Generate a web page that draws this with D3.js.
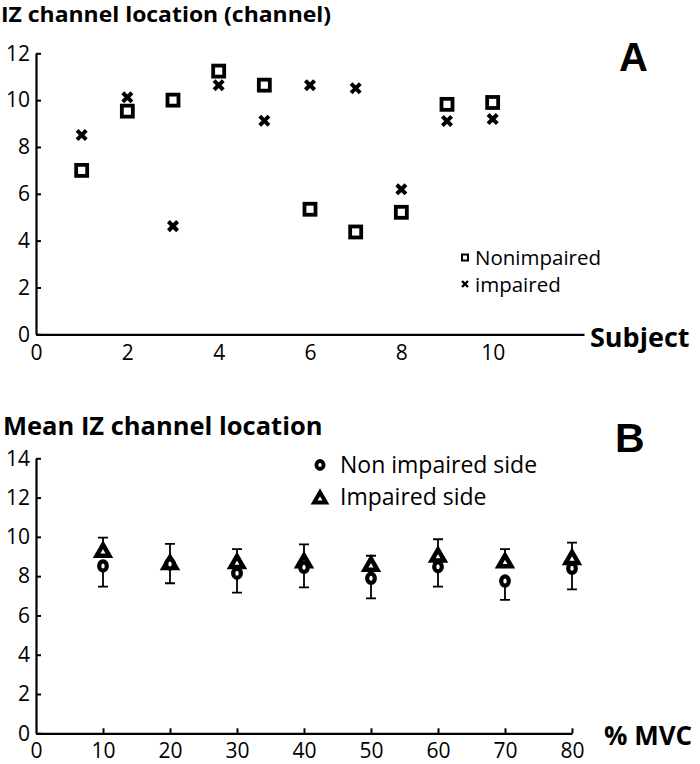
<!DOCTYPE html>
<html><head><meta charset="utf-8">
<script src="https://cdn.jsdelivr.net/npm/d3@7"></script>
<style>
body{margin:0;background:#fff;}
svg text{font-family:"Open Sans",sans-serif;fill:#000;}
</style></head>
<body><svg id="c" width="700" height="764"></svg>
<script>
// Panel A data
const subjects = [1,2,3,4,5,6,7,8,9,10];
const nonimpaired = [7.0,9.53,10.0,11.24,10.64,5.34,4.37,5.21,9.82,9.9];
const impaired = [8.51,10.12,4.62,10.64,9.12,10.64,10.51,6.19,9.11,9.19];
const aXTicks = [0,2,4,6,8,10];
const aYTicks = [0,2,4,6,8,10,12];
// Panel B data
const mvc = [10,20,30,40,50,60,70,80];
const nonImpairedSide = [8.52,8.62,8.15,8.45,7.89,8.48,7.75,8.40];
const nonImpairedSD = [1.05,0.98,0.99,1.02,1.02,1.01,0.96,1.07];
const impairedSide = [9.28,8.65,8.70,8.74,8.57,9.03,8.74,8.91];
const impairedSD = [0.68,0.99,0.68,0.88,0.47,0.85,0.64,0.80];
const bXTicks = [0,10,20,30,40,50,60,70,80];
const bYTicks = [0,2,4,6,8,10,12,14];

const svg = d3.select("#c");
const tickFont = 21;

// ---------- Panel A ----------
const xA = d3.scaleLinear().domain([0,12]).range([36,584]);
const yA = d3.scaleLinear().domain([0,12]).range([334.3,53.3]);

svg.append("text").attr("x",1).attr("y",22).attr("font-weight","bold").attr("font-size",20.5)
  .attr("textLength",330).attr("lengthAdjust","spacingAndGlyphs").text("IZ channel location (channel)");
svg.append("text").attr("x",619).attr("y",71).style("font-family","'Liberation Sans',Arial").attr("font-weight","bold").attr("font-size",40).text("A");

const gAy = svg.append("g").attr("transform","translate(36,0)")
  .call(d3.axisLeft(yA).tickValues(aYTicks).tickSize(-5).tickSizeOuter(0).tickPadding(5));
const gAx = svg.append("g").attr("transform","translate(0,334.3)")
  .call(d3.axisBottom(xA).tickValues(aXTicks).tickSize(0).tickSizeOuter(0).tickPadding(11));
[gAy,gAx].forEach(g=>{
  g.select(".domain").attr("stroke","#000").attr("stroke-width",2.2);
  g.selectAll(".tick line").attr("stroke","#000").attr("stroke-width",2);
  g.selectAll(".tick text").attr("font-size",tickFont).style("font-family","'Open Sans',sans-serif").attr("fill","#000");
});
gAy.selectAll(".tick text").attr("dx",-1);

svg.append("text").attr("x",590).attr("y",347).attr("font-weight","bold").attr("font-size",27).text("Subject");

const sq = 11;
svg.append("g").selectAll("rect").data(subjects).join("rect")
  .attr("x",(d)=>xA(d)-sq/2).attr("y",(d,i)=>yA(nonimpaired[i])-sq/2)
  .attr("width",sq).attr("height",sq).attr("fill","none").attr("stroke","#000").attr("stroke-width",3.8);
const xs = 4.6;
svg.append("g").selectAll("path").data(subjects).join("path")
  .attr("d",(d,i)=>{const cx=xA(d),cy=yA(impaired[i]);return `M${cx-xs},${cy-xs}L${cx+xs},${cy+xs}M${cx-xs},${cy+xs}L${cx+xs},${cy-xs}`;})
  .attr("stroke","#000").attr("stroke-width",4).attr("fill","none");

// legend A
svg.append("rect").attr("x",462).attr("y",254.5).attr("width",6).attr("height",6).attr("fill","none").attr("stroke","#000").attr("stroke-width",2);
svg.append("text").attr("x",475).attr("y",265).attr("font-size",20.5).text("Nonimpaired");
svg.append("path").attr("d","M462,281L468,287M462,287L468,281").attr("stroke","#000").attr("stroke-width",2.4);
svg.append("text").attr("x",475).attr("y",292).attr("font-size",20.5).text("impaired");

// ---------- Panel B ----------
const xB = d3.scaleLinear().domain([0,80]).range([36,572]);
const yB = d3.scaleLinear().domain([0,14]).range([733.3,458.3]);

svg.append("text").attr("x",3).attr("y",435).attr("font-weight","bold").attr("font-size",25.5).text("Mean IZ channel location");
svg.append("text").attr("x",615).attr("y",452).style("font-family","'Liberation Sans',Arial").attr("font-weight","bold").attr("font-size",41).text("B");

const gBy = svg.append("g").attr("transform","translate(36,0)")
  .call(d3.axisLeft(yB).tickValues(bYTicks).tickSize(-5).tickSizeOuter(0).tickPadding(5));
const gBx = svg.append("g").attr("transform","translate(0,733.3)")
  .call(d3.axisBottom(xB).tickValues(bXTicks).tickSize(-5).tickSizeOuter(0).tickPadding(10));
[gBy,gBx].forEach(g=>{
  g.select(".domain").attr("stroke","#000").attr("stroke-width",2.2);
  g.selectAll(".tick line").attr("stroke","#000").attr("stroke-width",2);
  g.selectAll(".tick text").attr("font-size",tickFont).style("font-family","'Open Sans',sans-serif").attr("fill","#000");
});
gBy.selectAll(".tick text").attr("dx",-1);
gBx.selectAll(".tick").filter(d=>d===0).select("line").remove();

svg.append("text").attr("x",604).attr("y",745).attr("font-weight","bold").attr("font-size",26).text("% MVC");

// error bars
const cap = 5;
const eb = svg.append("g").attr("stroke","#000").attr("stroke-width",1.8).attr("fill","none");
mvc.forEach((m,i)=>{
  const cx = xB(m);
  const top = yB(impairedSide[i]+impairedSD[i]);
  const bot = yB(nonImpairedSide[i]-nonImpairedSD[i]);
  eb.append("path").attr("d",`M${cx},${top}L${cx},${yB(impairedSide[i])}M${cx-cap},${top}L${cx+cap},${top}`);
  eb.append("path").attr("d",`M${cx},${bot}L${cx},${yB(nonImpairedSide[i])}M${cx-cap},${bot}L${cx+cap},${bot}`);
});
// triangles
const tri = d3.symbol().type(d3.symbolTriangle).size(70);
svg.append("g").selectAll("path").data(mvc).join("path")
  .attr("transform",(d,i)=>`translate(${xB(d)},${yB(impairedSide[i])+1})`)
  .attr("d",tri).attr("fill","#fff").attr("stroke","#000").attr("stroke-width",4.5).attr("stroke-linejoin","miter");
// circles
svg.append("g").selectAll("ellipse").data(mvc).join("ellipse")
  .attr("cx",d=>xB(d)).attr("cy",(d,i)=>yB(nonImpairedSide[i]))
  .attr("rx",3.8).attr("ry",4.6).attr("fill","#fff").attr("stroke","#000").attr("stroke-width",4.2);

// legend B
svg.append("ellipse").attr("cx",320).attr("cy",465).attr("rx",3.6).attr("ry",4).attr("fill","#fff").attr("stroke","#000").attr("stroke-width",3.8);
svg.append("text").attr("x",340).attr("y",473).attr("font-size",23).text("Non impaired side");
svg.append("path").attr("transform","translate(320,499)").attr("d",d3.symbol().type(d3.symbolTriangle).size(60)()).attr("fill","#fff").attr("stroke","#000").attr("stroke-width",4);
svg.append("text").attr("x",340).attr("y",505).attr("font-size",23).text("Impaired side");
</script></body></html>
